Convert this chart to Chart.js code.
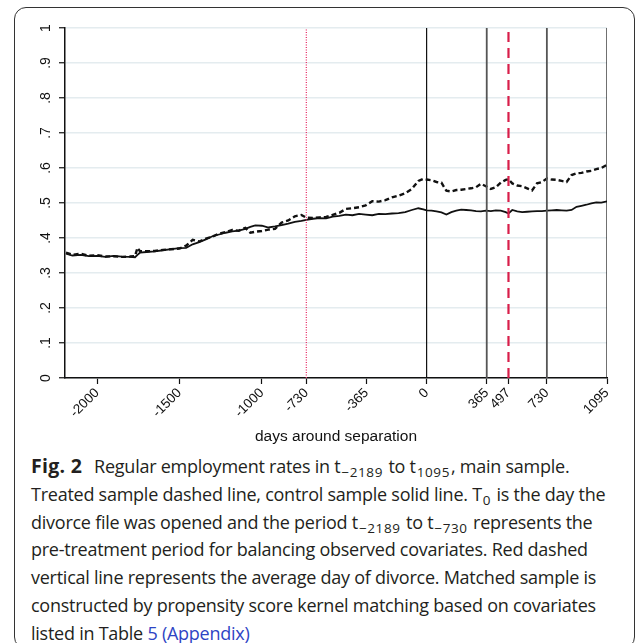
<!DOCTYPE html>
<html>
<head>
<meta charset="utf-8">
<script src="https://cdn.jsdelivr.net/npm/chart.js@4.4.1/dist/chart.umd.min.js"></script>
<style>
  html, body { margin: 0; padding: 0; background: #fff; }
  body { width: 637px; height: 643px; position: relative; overflow: hidden; }
  .frame {
    position: absolute; left: 14px; top: 7px; width: 619px; height: 640px;
    border: 1.5px solid #333; border-radius: 12px;
  }
  #wrap { position: absolute; left: 0; top: 0; width: 637px; height: 450px; }
  .caption {
    position: absolute; left: 31px; top: 452px; width: 600px;
    font-family: "Open Sans", sans-serif; font-size: 18px; line-height: 27.8px;
    color: #231f20; letter-spacing: -0.25px; white-space: nowrap;
  }
  .caption b { font-weight: 700; font-size: 19.5px; letter-spacing: 0.3px; margin-right: 3px; }
  .caption sub { font-size: 13.5px; letter-spacing: 0.6px; vertical-align: -4px; line-height: 0; margin: 0 1px; }
  .caption .ln { color: #2e44c4; }
</style>
</head>
<body>
<div class="frame"></div>
<div id="wrap"><canvas id="chart" width="637" height="450"></canvas></div>
<div class="caption">
  <b>Fig. 2</b>&nbsp; Regular employment rates in t<sub>−2189</sub> to t<sub>1095</sub>, main sample.<br>
  Treated sample dashed line, control sample solid line. T<sub>0</sub> is the day the<br>
  divorce file was opened and the period t<sub>−2189</sub> to t<sub>−730</sub> represents the<br>
  pre-treatment period for balancing observed covariates. Red dashed<br>
  vertical line represents the average day of divorce. Matched sample is<br>
  constructed by propensity score kernel matching based on covariates<br>
  listed in Table <span class="ln">5</span> <span class="ln">(Appendix)</span>
</div>
<script>
'use strict';

// ---------- data ----------
const days = [
  -2189, -2150, -2100, -2050, -2000, -1950, -1900, -1850, -1800, -1770, -1755, -1740,
  -1700, -1650, -1600, -1550, -1500, -1460, -1420, -1380, -1340, -1300, -1260, -1220,
  -1180, -1140, -1100, -1070, -1040, -1000, -960, -920, -880, -840, -800, -760, -730,
  -690, -650, -610, -570, -530, -490, -450, -410, -370, -330, -290, -250, -210, -170,
  -130, -90, -50, -20, 0, 30, 60, 90, 120, 150, 180, 210, 240, 270, 300, 330, 360, 390,
  420, 450, 480, 497, 520, 550, 580, 610, 640, 670, 700, 730, 760, 790, 820, 850, 880,
  910, 940, 970, 1000, 1030, 1060, 1095,
];
const controlRate = [
  .355, .350, .352, .348, .349, .346, .349, .347, .346, .345, .352, .358,
  .360, .362, .365, .368, .371, .372, .382, .388, .396, .405, .410, .415,
  .419, .421, .426, .432, .436, .435, .430, .433, .437, .441, .446, .449, .452,
  .455, .457, .456, .461, .463, .467, .465, .469, .467, .465, .469, .468, .470, .471,
  .474, .480, .485, .482, .479, .478, .476, .473, .467, .474, .478, .481, .480, .479, .477, .476, .478, .477,
  .479, .478, .474, .470, .480, .476, .474, .475, .476, .477, .477, .478, .479, .480, .479, .478, .480,
  .489, .492, .495, .499, .502, .501, .505,
];
const treatedRate = [
  .358, .352, .355, .349, .351, .347, .348, .346, .347, .348, .372, .362,
  .362, .363, .366, .368, .370, .378, .395, .390, .398, .404, .412, .417,
  .423, .421, .429, .415, .418, .420, .424, .426, .444, .450, .462, .466, .458,
  .457, .459, .460, .466, .472, .483, .485, .488, .493, .505, .504, .508, .516, .521,
  .528, .540, .563, .569, .567, .565, .560, .558, .535, .533, .537, .538, .540, .542, .545, .555, .548, .540,
  .545, .558, .566, .568, .556, .550, .548, .542, .536, .556, .560, .570, .567, .566, .563, .560, .580,
  .585, .586, .590, .592, .597, .600, .609,
];
const xTicks = [-2000, -1500, -1000, -730, -365, 0, 365, 497, 730, 1095];
const yTicks = [0, .1, .2, .3, .4, .5, .6, .7, .8, .9, 1];
const markerDays = [0, 365, 730, 1095];   // solid reference lines
const balanceEnd = -730;                   // end of pre-treatment window
const divorceDay = 497;                    // average day of divorce

// ---------- helpers ----------
const FONT = '"Liberation Sans", Arial, sans-serif';
const pts = (ys) => days.map((d, i) => ({ x: d, y: ys[i] }));
const vline = (x, color, width, dash, top = 1) => ({
  data: [{ x, y: 0 }, { x, y: top }], showLine: true, borderColor: color,
  borderWidth: width, borderDash: dash, pointRadius: 0,
});
const fmtY = (v) => (v === 0 ? '0' : v === 1 ? '1' : '.' + Math.round(v * 10));

// rotated y tick labels, read bottom to top
const yLabels = {
  id: 'yLabels',
  afterDraw(chart) {
    const { ctx, scales: { y } } = chart;
    ctx.save();
    ctx.fillStyle = '#111';
    ctx.font = `14px ${FONT}`;
    ctx.textAlign = 'center';
    ctx.textBaseline = 'middle';
    for (const v of yTicks) {
      ctx.save();
      ctx.translate(y.left + 31, y.getPixelForValue(v));
      ctx.rotate(-Math.PI / 2);
      ctx.fillText(fmtY(v), 0, 0);
      ctx.restore();
    }
    ctx.restore();
  },
};

new Chart(document.getElementById('chart').getContext('2d'), {
  type: 'scatter',
  data: {
    datasets: [
      vline(balanceEnd, '#e8336b', 1.3, [1, 1.5]),
      ...markerDays.map((d) => vline(d, d === 0 || d === 1095 ? '#111' : '#555', d === 0 || d === 1095 ? 1.2 : 1.8, [])),
      vline(divorceDay, '#d81e4a', 2.2, [10, 6], 0.99),
      { data: pts(controlRate), showLine: true, borderColor: '#111', borderWidth: 1.8, pointRadius: 0 },
      { data: pts(treatedRate), showLine: true, borderColor: '#111', borderWidth: 2.4, borderDash: [5, 3], pointRadius: 0 },
    ],
  },
  options: {
    responsive: false, animation: false,
    layout: { padding: { left: 15, right: 30, top: 28, bottom: 0 } },
    plugins: { legend: { display: false }, tooltip: { enabled: false } },
    scales: {
      x: {
        type: 'linear', min: -2195, max: 1095,
        afterBuildTicks: (s) => { s.ticks = xTicks.map((v) => ({ value: v })); },
        afterFit: (s) => { s.height = 72; },
        ticks: {
          autoSkip: false, minRotation: 45, maxRotation: 45, padding: 1,
          color: '#111', font: { family: FONT, size: 13.5 },
          callback: (v) => String(v),
        },
        grid: { drawOnChartArea: false, tickLength: 6, tickColor: '#111', tickWidth: 1.2 },
        border: { color: '#111', width: 1.5 },
        title: {
          display: true, text: 'days around separation', color: '#111',
          font: { family: FONT, size: 15.5 }, padding: { top: 0, bottom: 4 },
        },
      },
      y: {
        min: 0, max: 1,
        afterBuildTicks: (s) => { s.ticks = yTicks.map((v) => ({ value: v })); },
        afterFit: (s) => { s.width = 50; },
        ticks: { display: false },
        grid: { color: '#e4ecef', lineWidth: 1.5, tickLength: 6, tickColor: '#111', tickWidth: 1.2 },
        border: { color: '#111', width: 1.5 },
      },
    },
  },
  plugins: [yLabels],
});
</script>
</body>
</html>
